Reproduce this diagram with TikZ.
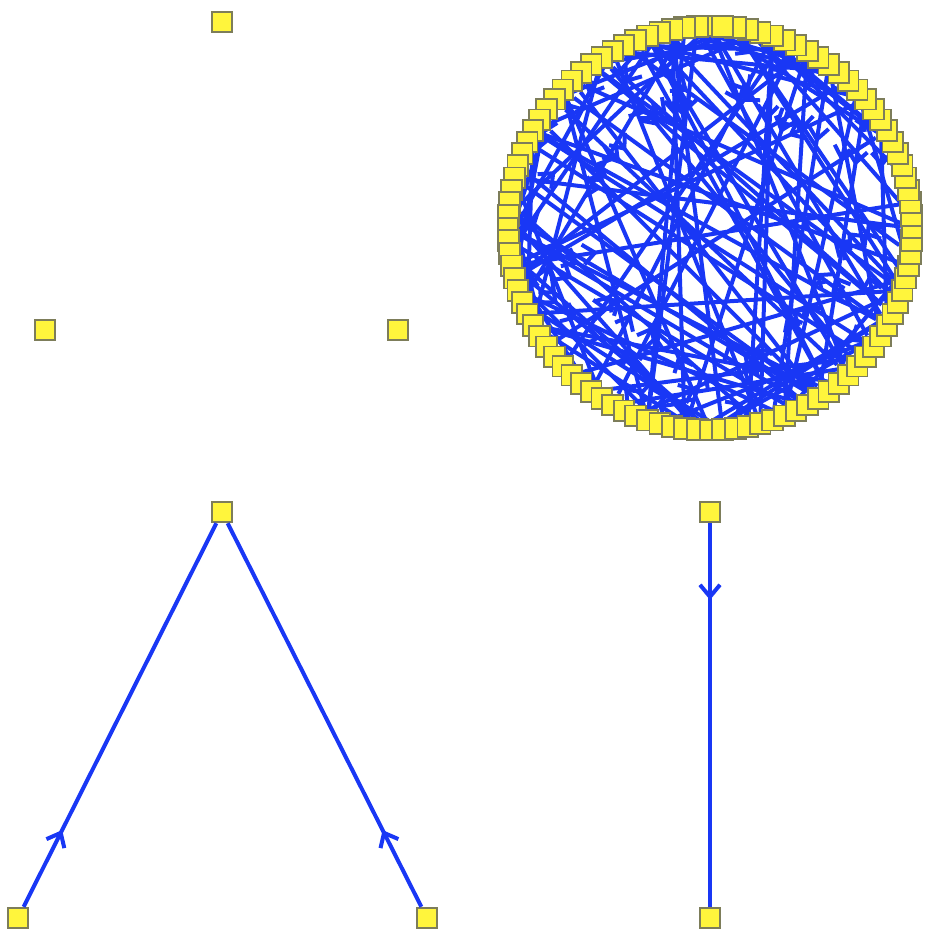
\documentclass[tikz,border=0pt]{standalone}
\usetikzlibrary{arrows.meta,decorations.markings,backgrounds}

\definecolor{vertfill}{RGB}{255,245,60}
\definecolor{vertline}{RGB}{125,125,90}
\definecolor{edgeblue}{RGB}{25,55,245}

\tikzset{
  vert/.style={rectangle, draw=vertline, fill=vertfill, line width=1.3pt,
    minimum size=15.5pt, inner sep=0pt},
  link/.style={draw=edgeblue, line width=3pt,
    decoration={markings, mark=at position 0.2 with {\arrow{Straight Barb[length=9pt,width=15pt]}}},
    postaction={decorate}},
}

\begin{document}
\begin{tikzpicture}[x=0.75pt, y=-0.75pt]
    \useasboundingbox (0,0) rectangle (924,934);

    % drei einzelne Knoten, keine Kanten
    \node[vert] (a1) at (222, 22) {};
    \node[vert] (a2) at (45, 330) {};
    \node[vert] (a3) at (398, 330) {};

    % Kreis mit 100 Knoten
    \foreach \i in {0,...,99} {
        \node[vert] (c\i) at ({710+202*cos(90+3.6*\i)}, {228-202*sin(90+3.6*\i)}) {};
    }
    % zufaellige Kanten im Kreis (hinter den Knoten)
    \pgfmathsetseed{4242}
    \begin{scope}[on background layer]
        \foreach \k in {1,...,100} {
            \pgfmathrandominteger{\ra}{0}{99}
            \pgfmathrandominteger{\rd}{12}{88}
            \pgfmathtruncatemacro{\rb}{mod(\ra+\rd,100)}
            \draw[link] (c\ra) -- (c\rb);
        }
    \end{scope}

    % zwei Kanten in einen Knoten
    \node[vert] (b0) at (222, 512) {};
    \node[vert] (b1) at (18, 918) {};
    \node[vert] (b2) at (427, 918) {};
    \draw[link] (b1) -- (b0);
    \draw[link] (b2) -- (b0);

    % eine Kante
    \node[vert] (d0) at (710, 512) {};
    \node[vert] (d1) at (710, 918) {};
    \draw[link] (d0) -- (d1);
\end{tikzpicture}
\end{document}
